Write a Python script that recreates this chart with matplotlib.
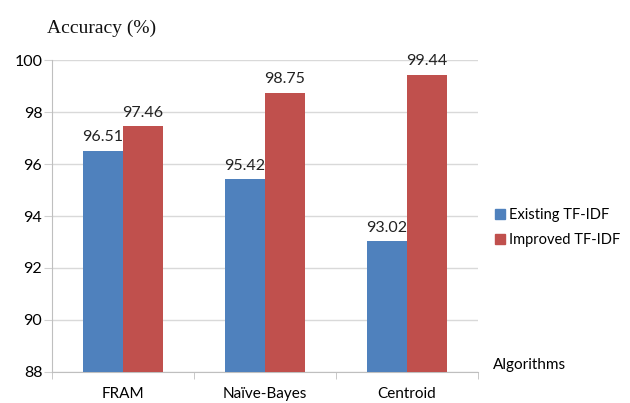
import matplotlib
matplotlib.use("Agg")
import matplotlib.pyplot as plt
import numpy as np
from matplotlib.patches import Patch

categories = ["FRAM", "Naïve-Bayes", "Centroid"]
existing = [96.51, 95.42, 93.02]
improved = [97.46, 98.75, 99.44]
series_names = ["Existing TF-IDF", "Improved TF-IDF"]
yticks = [88, 90, 92, 94, 96, 98, 100]

blue = "#4F81BD"
red = "#C0504D"
sans = ["Lato", "DejaVu Sans"]

fig = plt.figure(figsize=(6.3, 4.03), dpi=100)
ax = fig.add_axes([0.0825, 0.077, 0.676, 0.774])

x = np.arange(len(categories))
w = 0.28
ax.bar(x - w / 2, [v - 88 for v in existing], w, bottom=88, color=blue, zorder=3)
ax.bar(x + w / 2, [v - 88 for v in improved], w, bottom=88, color=red, zorder=3)

for xs, vals in ((x - w / 2, existing), (x + w / 2, improved)):
    for xi, v in zip(xs, vals):
        ax.text(xi, v + 0.25, f"{v:.2f}", ha="center", va="bottom",
                fontsize=11.5, family=sans, color="#222222")

ax.set_xlim(-0.5, 2.5)
ax.set_ylim(88, 100)
ax.set_yticks(yticks)
ax.set_yticklabels([str(t) for t in yticks], family=sans, fontsize=11.5)
ax.set_xticks(x)
ax.set_xticklabels(categories, family=sans, fontsize=11)
ax.set_xticks([-0.5, 0.5, 1.5, 2.5], minor=True)
ax.tick_params(axis="x", which="major", length=0, pad=11)
ax.tick_params(axis="x", which="minor", length=5, color="#BFBFBF", direction="out")
ax.tick_params(axis="y", length=6, color="#D0D0D0", pad=1)

ax.grid(axis="y", color="#D9D9D9", linewidth=1, zorder=0)
for side in ("top", "right"):
    ax.spines[side].set_visible(False)
for side in ("left", "bottom"):
    ax.spines[side].set_color("#BFBFBF")

fig.text(0.074, 0.93, "Accuracy (%)", family=["Liberation Serif"], fontsize=14,
         ha="left", va="center", color="#111111")
fig.text(0.782, 0.095, "Algorithms", family=sans, fontsize=11, ha="left", va="center")

handles = [Patch(color=blue), Patch(color=red)]
fig.legend(handles, series_names, loc="center left", bbox_to_anchor=(0.785, 0.435),
           frameon=False, prop={"family": sans, "size": 10.5},
           handlelength=0.7, handleheight=0.7, handletextpad=0.3, labelspacing=0.75,
           borderpad=0, borderaxespad=0)

fig.savefig("out.png", dpi=100)
